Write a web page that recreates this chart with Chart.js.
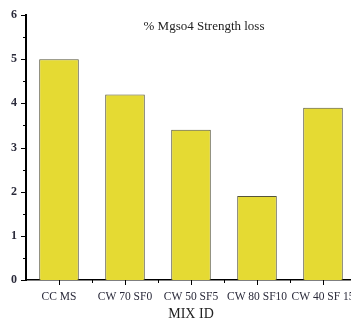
<!DOCTYPE html>
<html>
<head>
<meta charset="utf-8">
<script src="https://cdn.jsdelivr.net/npm/chart.js@4"></script>
<style>
  html, body { margin: 0; padding: 0; background: #fff; overflow: hidden; }
  #wrap { width: 362px; height: 323px; }
</style>
</head>
<body>
<div id="wrap"><canvas id="chart" width="362" height="323"></canvas></div>
<script>
const mixIds = ["CC MS", "CW 70 SF0", "CW 50 SF5", "CW 80 SF10", "CW 40 SF 15"];
const strengthLoss = [5.0, 4.2, 3.4, 1.9, 3.9];
const yTicks = [0, 1, 2, 3, 4, 5, 6];

const serif = "'Liberation Serif', 'DejaVu Serif', serif";

// ticks drawn by hand: major at centres / integers, minor between
const axisTicks = {
  id: "axisTicks",
  afterDraw(chart) {
    const { ctx, scales: { x, y }, chartArea } = chart;
    ctx.save();
    ctx.strokeStyle = "#000";
    ctx.lineWidth = 1;
    ctx.beginPath();
    for (let v = 0; v <= 6; v += 0.5) {
      const py = Math.round(y.getPixelForValue(v)) + 0.5;
      const len = Number.isInteger(v) ? 5 : 3;
      ctx.moveTo(chartArea.left - len, py);
      ctx.lineTo(chartArea.left, py);
    }
    for (let i = 0; i < mixIds.length; i++) {
      const px = Math.round(x.getPixelForValue(i)) + 0.5;
      ctx.moveTo(px, chartArea.bottom);
      ctx.lineTo(px, chartArea.bottom + 5);
      const bx = Math.round(x.getPixelForValue(i + 0.5)) + 0.5;
      ctx.moveTo(bx, chartArea.bottom);
      ctx.lineTo(bx, chartArea.bottom + 3);
    }
    ctx.stroke();
    ctx.fillStyle = "#222";
    ctx.font = "13px " + serif;
    ctx.textAlign = "center";
    ctx.textBaseline = "middle";
    ctx.fillText("% Mgso4 Strength loss", 204, 27);
    ctx.restore();
  }
};

new Chart(document.getElementById("chart"), {
  type: "bar",
  data: {
    labels: mixIds,
    datasets: [{
      data: strengthLoss,
      backgroundColor: "#e5da33",
      borderColor: "#55543a",
      borderWidth: 1,
      categoryPercentage: 1,
      barPercentage: 0.6
    }]
  },
  options: {
    responsive: false,
    animation: false,
    layout: { padding: { top: 15, right: 6, left: 0, bottom: 0 } },
    plugins: { legend: { display: false }, tooltip: { enabled: false } },
    scales: {
      x: {
        grid: { display: false },
        border: { color: "#000", width: 1.5 },
        ticks: {
          color: "#2a2a3a",
          font: { family: serif, size: 11.5 },
          padding: 2,
          maxRotation: 0,
          autoSkip: false
        },
        title: {
          display: true,
          text: "MIX ID",
          color: "#222",
          font: { family: serif, size: 14 },
          padding: { top: 0, bottom: 0 }
        },
        afterFit: s => { s.height = 43; }
      },
      y: {
        min: 0,
        max: 6,
        afterBuildTicks: s => { s.ticks = yTicks.map(v => ({ value: v })); },
        grid: { display: false },
        border: { color: "#000", width: 2 },
        ticks: {
          color: "#2a2a3a",
          font: { family: serif, size: 12, weight: "bold" },
          padding: 1
        },
        afterFit: s => { s.width = 26; }
      }
    }
  },
  plugins: [axisTicks]
});
</script>
</body>
</html>
